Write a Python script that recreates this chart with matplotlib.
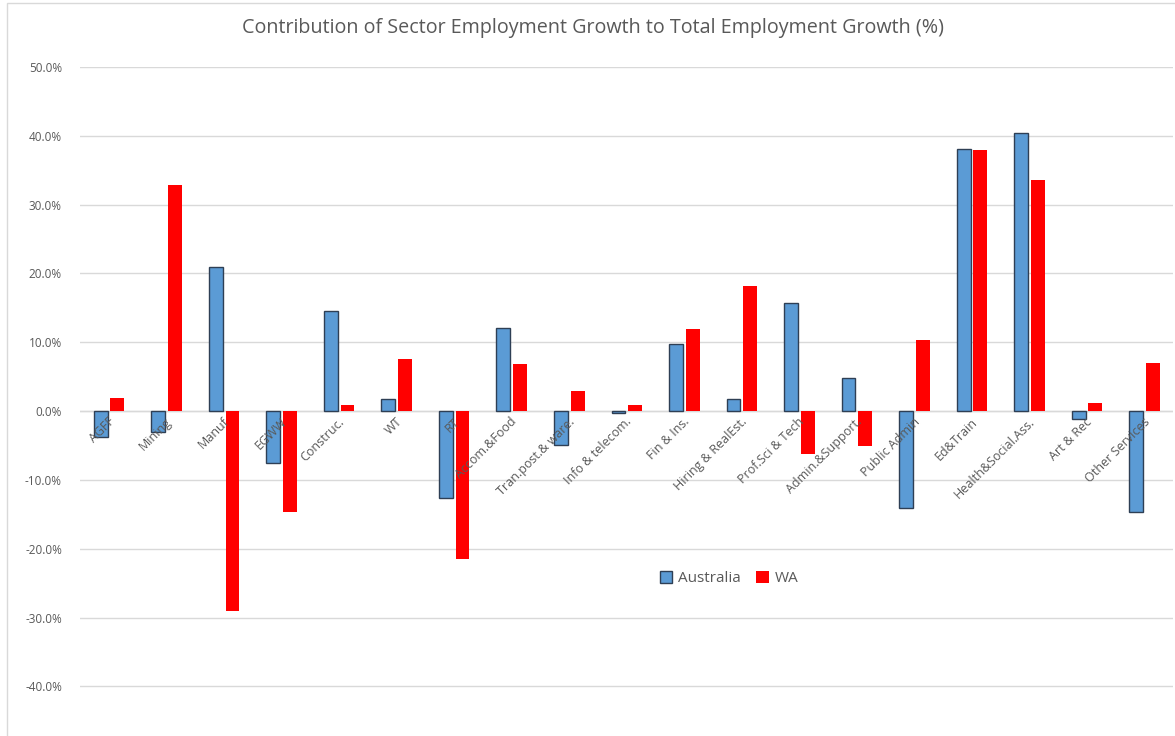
import matplotlib
matplotlib.use('Agg')
import matplotlib.pyplot as plt
from matplotlib.patches import Rectangle
import numpy as np

sectors = ['AGFF', 'Mining', 'Manuf', 'EGWW', 'Construc.', 'WT', 'RT',
           'Accom.&Food', 'Tran.post.& ware.', 'Info & telecom.', 'Fin & Ins.',
           'Hiring & RealEst.', 'Prof.Sci & Tech', 'Admin.&Support.',
           'Public Admin', 'Ed&Train', 'Health&Social.Ass.', 'Art & Rec',
           'Other Services']
australia = [-3.8, -3.0, 21.0, -7.5, 14.6, 1.7, -12.6, 12.1, -4.9, -0.3, 9.7,
             1.8, 15.7, 4.8, -14.1, 38.1, 40.4, -1.2, -14.7]
wa = [1.9, 32.8, -29.1, -14.7, 0.9, 7.6, -21.5, 6.9, 2.9, 0.9, 11.9,
      18.2, -6.2, -5.1, 10.3, 37.9, 33.6, 1.2, 7.0]
yticks = [-40, -30, -20, -10, 0, 10, 20, 30, 40, 50]

plt.rcParams['font.family'] = ['Open Sans', 'DejaVu Sans']

fig = plt.figure(figsize=(11.75, 7.36), dpi=100)
ax = fig.add_axes([80 / 1175, 0, 1093 / 1175, 1 - 67 / 736])

x = np.arange(len(sectors))
w = 0.24
ax.bar(x - 0.14, australia, w, color='#5B9BD5', edgecolor='#2E3F55',
       linewidth=1.0, label='Australia', zorder=3)
ax.bar(x + 0.15, wa, w, color='#FF0000', edgecolor='none', label='WA',
       zorder=3)

ax.set_xlim(-0.5, len(sectors) - 0.5)
ax.set_ylim(-47.2, 50)
ax.set_yticks(yticks)
ax.set_yticklabels(['%.1f%%' % v for v in yticks], fontsize=8.5, color='#595959')
ax.yaxis.grid(True, color='#D9D9D9', linewidth=1.0, zorder=0)
ax.tick_params(axis='y', length=0, pad=13)
ax.set_xticks([])
for s in ax.spines.values():
    s.set_visible(False)
ax.axhline(0, color='#D9D9D9', linewidth=1.0, zorder=1)

for i, name in enumerate(sectors):
    ax.text(i - 0.02, -0.6, name, rotation=45, rotation_mode='anchor',
            ha='right', va='top', fontsize=9, color='#595959', zorder=4)

ax.legend(loc='center', bbox_to_anchor=(0.594, 0.235), ncol=2, frameon=False,
          fontsize=11, handlelength=0.8, handleheight=0.8, columnspacing=1.0,
          handletextpad=0.4, labelcolor='#595959')

fig.text(0.505, 1 - 28 / 736, 'Contribution of Sector Employment Growth to Total Employment Growth (%)',
         ha='center', va='center', fontsize=14.2, color='#595959')

fig.patches.append(Rectangle((7 / 1175, -0.1), 1.2, 1 - 3 / 736 + 0.1,
                             transform=fig.transFigure, fill=False,
                             edgecolor='#D9D9D9', linewidth=1.0))

fig.savefig('out.png', dpi=100)
